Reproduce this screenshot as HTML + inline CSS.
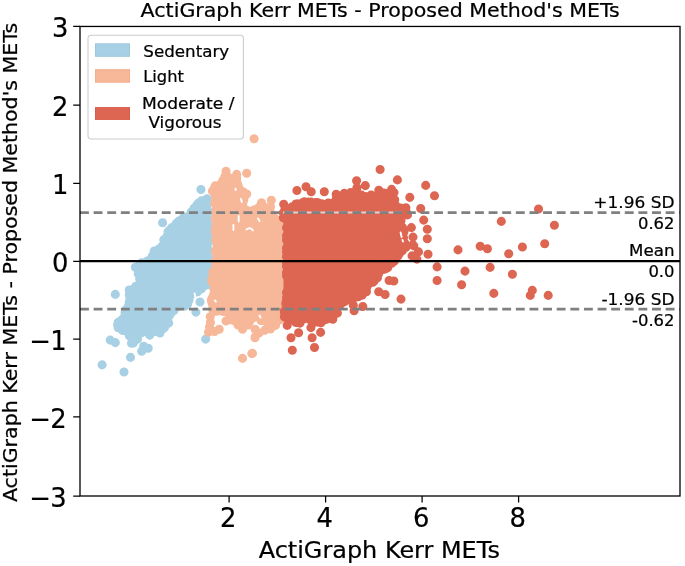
<!DOCTYPE html>
<html lang="en"><head><meta charset="utf-8"><title>ActiGraph Kerr METs - Proposed Method's METs</title>
<style>html,body{margin:0;padding:0;background:#fff}svg{display:block}text{stroke:#000;stroke-width:.22px}</style></head>
<body>
<svg width="685" height="566" viewBox="0 0 685 566" font-family="'DejaVu Sans','Liberation Sans',sans-serif" fill="#000">
<rect width="685" height="566" fill="#fff"/>
<g id="scatter">
<path d="M133.9,340.8 135.4,339.6 136.8,335.1 137.1,334.6 137.3,334.0 137.6,333.5 138.0,333.1 138.4,332.6 138.8,332.2 139.3,331.9 139.8,331.6 140.3,331.3 140.9,331.1 141.4,331.0 142.0,330.9 142.6,330.9 143.2,330.9 143.8,330.9 144.3,331.1 144.9,331.3 148.9,332.8 151.3,331.0 151.8,330.7 152.4,330.4 153.0,330.2 153.6,330.0 154.2,329.9 154.8,329.9 155.5,329.9 156.1,330.0 158.4,330.4 161.1,328.2 166.4,323.9 167.7,321.7 167.2,319.0 167.1,318.4 167.1,317.8 167.1,317.2 167.2,316.6 167.3,316.0 167.5,315.5 167.8,314.9 168.1,314.4 168.4,313.9 168.8,313.5 173.8,308.4 174.2,308.0 174.7,307.6 175.2,307.3 175.7,307.1 176.3,306.9 176.8,306.7 182.4,305.4 185.9,303.9 186.7,302.3 188.6,295.8 188.8,295.3 189.0,294.7 189.3,294.2 189.7,293.7 190.1,293.2 190.5,292.8 191.0,292.5 191.5,292.1 192.0,291.9 192.6,291.7 197.6,290.0 201.8,286.6 202.3,286.3 202.8,286.0 203.4,285.7 204.0,285.5 204.5,285.4 206.8,284.9 206.8,200.4 203.8,201.2 200.3,203.3 196.3,207.8 191.8,214.0 191.4,214.5 191.0,214.9 190.5,215.3 190.1,215.6 189.6,215.9 181.6,219.9 181.3,220.0 178.4,221.3 177.6,224.1 177.4,224.7 177.1,225.3 176.8,225.8 176.4,226.3 176.0,226.8 175.5,227.2 175.0,227.6 171.2,230.0 168.2,234.3 165.5,239.6 164.2,245.2 164.0,245.8 163.8,246.3 163.5,246.8 163.2,247.3 162.9,247.8 162.5,248.2 162.0,248.6 158.3,251.6 154.4,255.5 152.5,259.3 152.2,259.8 151.8,260.3 151.4,260.8 151.0,261.2 150.5,261.5 150.0,261.9 149.5,262.1 148.9,262.3 148.4,262.5 143.0,263.7 139.6,267.1 138.2,268.6 138.6,269.5 138.9,270.3 141.5,279.5 141.7,280.1 141.7,280.7 141.7,281.3 141.7,281.9 141.6,282.5 141.4,283.1 141.2,283.7 141.0,284.2 140.6,284.7 140.3,285.2 139.9,285.6 139.4,286.0 138.9,286.4 138.4,286.7 130.6,290.6 130.3,291.7 131.5,298.4 131.6,299.0 131.6,299.7 131.6,300.3 131.5,300.9 131.3,301.5 131.1,302.1 130.8,302.7 128.1,307.0 126.4,314.2 126.2,314.7 126.0,315.2 125.8,315.7 125.5,316.2 125.1,316.6 124.7,317.0 119.9,321.9 119.2,324.9 119.7,327.0 124.4,329.6 124.9,329.9 125.3,330.2 131.4,335.2 131.9,335.7 132.3,336.1 132.7,336.7 133.0,337.2 133.2,337.8 133.4,338.4 133.6,339.0 133.9,340.8Z" fill="#a7d0e4" stroke="#a7d0e4" stroke-width="9.1" stroke-linejoin="round"/>
<path d="M207.0 198.7h.01M201.5 200.7h.01M198.3 203.1h.01M196.8 204.9h.01M194.0 208.3h.01M191.2 212.0h.01M183.7 217.1h.01M176.0 223.8h.01M171.5 227.9h.01M168.8 230.7h.01M168.0 231.7h.01M163.8 239.8h.01M162.1 246.1h.01M159.1 248.9h.01M157.3 250.3h.01M152.5 255.7h.01M151.2 258.3h.01M147.2 261.1h.01M141.6 262.9h.01M140.1 264.3h.01M138.2 273.7h.01M139.7 279.1h.01M139.1 284.1h.01M135.8 286.2h.01M129.2 290.0h.01M129.3 294.8h.01M129.9 298.5h.01M129.2 302.2h.01M125.8 310.0h.01M125.1 312.5h.01M118.1 322.4h.01M117.6 324.9h.01M118.2 327.7h.01M122.4 330.4h.01M129.4 335.7h.01M133.3 343.0h.01M141.8 332.6h.01M152.6 332.1h.01M153.5 331.7h.01M158.2 332.0h.01M163.1 328.7h.01M164.5 327.5h.01M168.7 323.1h.01M168.9 316.3h.01M170.3 314.2h.01M174.0 310.5h.01M185.1 306.0h.01M187.6 304.3h.01M189.0 300.2h.01M190.5 295.3h.01M194.7 292.6h.01M197.5 291.7h.01M201.5 288.9h.01M208.4 282.5h.01M208.4 279.6h.01M208.4 274.6h.01M208.4 265.2h.01M208.4 262.4h.01M208.4 256.7h.01M208.4 250.0h.01M208.4 242.4h.01M208.4 237.8h.01M208.4 227.4h.01M208.4 225.6h.01M208.4 211.8h.01M102.1 364.9h.01M124.0 372.0h.01M130.5 357.4h.01M110.2 340.1h.01M115.3 342.6h.01M115.3 294.4h.01M141.7 351.3h.01M148.2 348.2h.01M143.7 346.2h.01M131.5 343.2h.01M137.6 339.1h.01M205.7 339.1h.01M195.9 312.1h.01M200.0 302.0h.01M135.4 267.2h.01M200.9 189.5h.01M162.6 222.7h.01M149.8 335.1h.01M160.0 333.0h.01M154.2 251.0h.01" fill="none" stroke="#a7d0e4" stroke-width="9.1" stroke-linecap="round"/>
<path d="M214.6,310.4 214.8,310.3 215.3,310.0 215.8,309.7 216.4,309.6 217.0,309.4 217.6,309.4 218.2,309.4 218.8,309.4 226.8,310.4 227.4,310.5 228.0,310.7 228.6,310.9 229.1,311.2 229.6,311.6 230.1,311.9 230.6,312.4 231.0,312.9 233.5,316.3 237.0,316.9 237.6,317.1 238.2,317.3 238.8,317.5 239.4,317.9 239.9,318.2 240.3,318.7 242.5,320.9 248.2,320.9 254.7,316.8 255.3,316.5 255.8,316.2 256.4,316.1 257.0,315.9 257.6,315.9 258.3,315.9 258.9,315.9 259.5,316.0 260.1,316.2 260.6,316.4 261.2,316.7 261.7,317.1 264.9,319.5 268.8,320.8 275.4,320.4 279.9,319.7 279.9,224.7 279.3,224.5 278.7,224.3 278.2,224.1 277.7,223.8 277.2,223.5 276.7,223.1 276.3,222.7 275.9,222.2 269.5,213.5 269.2,213.0 268.9,212.4 268.7,211.8 268.5,211.2 268.4,210.5 268.4,209.9 268.4,209.1 267.7,209.3 267.1,209.5 266.5,209.6 265.9,209.6 265.3,209.6 264.7,209.6 264.1,209.4 263.5,209.3 263.0,209.0 262.4,208.7 261.9,208.4 261.5,208.0 261.0,207.5 259.5,208.9 259.0,209.3 258.4,209.7 257.9,209.9 252.4,212.3 251.8,212.5 251.2,212.7 250.7,212.8 250.1,212.8 249.5,212.8 248.9,212.8 248.3,212.6 247.7,212.5 247.2,212.2 246.7,211.9 246.2,211.6 245.7,211.2 245.3,210.8 245.0,210.4 244.6,209.9 242.2,205.9 241.9,205.3 241.7,204.8 241.5,204.2 241.4,203.6 241.4,203.0 241.4,202.3 241.4,201.7 241.6,201.1 241.7,200.5 243.4,196.1 242.7,193.7 240.3,190.6 239.9,190.1 239.6,189.6 239.3,189.0 237.0,182.7 235.3,178.8 234.4,178.4 231.2,179.0 230.6,179.1 230.0,179.1 229.4,179.1 228.8,179.0 228.2,178.9 227.6,178.7 227.1,178.4 226.6,178.1 226.1,177.8 225.2,179.8 224.9,180.4 224.6,180.8 224.3,181.3 223.9,181.7 223.4,182.1 219.5,185.2 219.1,185.5 218.8,185.7 214.6,188.1 213.6,189.9 215.1,194.3 215.3,195.0 215.4,195.6 217.0,209.3 217.1,210.0 217.1,262.0 217.0,262.6 216.9,263.1 216.8,263.6 212.9,277.9 215.4,287.9 215.5,288.5 215.5,289.0 215.5,289.6 215.5,290.2 215.4,290.8 215.2,291.3 215.0,291.8 211.4,300.3 214.6,310.4Z" fill="#f7b799" stroke="#f7b799" stroke-width="9.1" stroke-linejoin="round"/>
<path d="M216.2 311.3h.01M218.0 311.0h.01M223.1 311.5h.01M226.1 311.9h.01M230.4 314.9h.01M236.5 318.5h.01M244.1 322.4h.01M245.3 322.4h.01M249.5 321.9h.01M260.1 318.0h.01M264.7 321.1h.01M276.5 321.8h.01M281.4 311.6h.01M281.4 303.7h.01M281.4 301.9h.01M281.4 284.6h.01M281.4 282.9h.01M281.4 279.4h.01M281.4 271.1h.01M281.4 258.3h.01M281.4 256.4h.01M281.4 251.9h.01M281.4 247.3h.01M281.4 237.9h.01M281.4 223.7h.01M277.6 221.7h.01M275.1 218.4h.01M270.5 212.1h.01M267.9 207.5h.01M265.3 208.0h.01M258.8 207.4h.01M254.3 209.8h.01M247.8 210.7h.01M243.0 202.7h.01M243.8 199.7h.01M245.0 195.9h.01M243.4 192.0h.01M236.7 177.9h.01M228.7 177.4h.01M227.6 176.8h.01M224.9 176.5h.01M222.8 180.5h.01M215.2 185.9h.01M212.4 191.1h.01M214.7 203.2h.01M215.5 211.1h.01M215.5 217.2h.01M215.5 220.2h.01M215.5 227.1h.01M215.5 230.8h.01M215.5 232.9h.01M215.5 240.1h.01M215.5 251.3h.01M215.5 261.1h.01M212.8 272.2h.01M211.7 279.8h.01M212.2 282.0h.01M213.9 289.0h.01M212.5 309.2h.01M254.1 138.7h.01M226.0 171.2h.01M236.7 174.4h.01M246.7 173.3h.01M261.5 202.7h.01M271.3 200.3h.01M270.5 206.7h.01M246.7 194.0h.01M242.5 358.4h.01M251.8 353.6h.01M208.5 332.2h.01M219.2 329.3h.01M210.4 322.5h.01M242.5 329.3h.01M255.1 329.3h.01M255.1 337.0h.01M267.7 328.3h.01M275.5 325.4h.01M264.8 330.3h.01M233.7 320.5h.01M229.8 319.6h.01M255.0 337.8h.01M252.5 353.4h.01M261.0 320.5h.01M248.0 325.0h.01M210.2 316.8h.01M209.5 327.0h.01M214.5 331.5h.01M226.0 321.0h.01M238.0 325.0h.01M270.5 329.0h.01M259.0 333.0h.01" fill="none" stroke="#f7b799" stroke-width="9.1" stroke-linecap="round"/>
<path d="M285.3,209.3 285.1,209.8 284.7,217.1 287.1,220.6 287.4,221.1 287.7,221.6 287.9,222.2 288.0,222.8 288.1,223.4 288.1,224.0 288.0,300.0 288.0,300.6 287.9,301.2 286.0,310.6 286.0,317.5 286.8,317.1 287.4,316.8 288.0,316.6 288.5,316.4 289.2,316.3 289.8,316.3 290.4,316.3 291.0,316.3 291.6,316.5 292.2,316.7 292.7,316.9 293.3,317.2 293.8,317.6 294.2,318.0 294.6,318.5 296.9,321.2 299.6,321.4 300.7,319.7 301.1,319.3 301.5,318.8 301.9,318.4 302.4,318.0 303.0,317.7 303.5,317.5 304.1,317.3 304.7,317.2 305.3,317.1 305.9,317.1 306.5,317.1 307.1,317.2 307.7,317.3 317.5,320.5 322.2,321.2 322.6,320.6 322.9,320.1 323.3,319.6 323.7,319.1 324.2,318.7 324.7,318.3 325.3,318.0 325.8,317.7 326.4,317.5 327.1,317.4 330.6,316.9 331.2,315.1 331.4,314.4 331.8,313.7 336.2,306.7 336.6,306.2 337.0,305.7 337.5,305.2 338.0,304.8 338.6,304.5 344.7,301.4 352.5,296.7 353.1,296.4 353.7,296.2 354.3,296.0 360.1,294.7 365.0,291.0 367.6,285.2 367.8,284.7 368.1,284.2 368.5,283.7 368.9,283.3 369.3,282.9 375.7,277.7 376.8,274.1 377.0,273.5 377.2,273.0 377.6,272.4 377.9,271.9 378.3,271.5 378.8,271.1 379.3,270.7 379.8,270.4 380.3,270.1 380.9,269.9 381.5,269.8 385.7,268.9 386.3,266.9 386.5,266.4 386.7,265.8 387.0,265.4 387.3,264.9 387.7,264.4 388.1,264.0 388.5,263.7 394.0,259.6 398.1,252.7 398.5,252.2 398.8,251.8 399.3,251.3 404.1,246.9 403.6,244.6 402.1,239.8 402.0,239.2 401.9,238.6 401.9,238.1 401.9,237.5 402.3,232.0 402.1,229.1 401.2,228.4 400.7,228.0 400.3,227.5 399.9,227.0 399.6,226.5 399.3,225.9 399.1,225.4 399.0,224.8 398.9,224.1 398.9,223.5 398.9,222.9 399.0,222.3 400.0,217.7 400.2,217.1 400.4,216.5 400.7,216.0 401.0,215.4 401.4,214.9 401.8,214.5 402.3,214.1 402.8,213.7 405.2,212.3 405.1,210.5 403.8,209.5 400.1,209.6 399.5,209.6 398.9,209.6 398.3,209.5 397.8,209.3 397.2,209.1 396.7,208.8 396.2,208.5 395.8,208.1 395.3,207.7 394.9,207.3 394.6,206.8 394.3,206.3 394.1,205.7 393.9,205.2 393.8,204.6 392.7,199.0 391.0,193.8 391.0,193.7 389.6,194.5 389.1,194.7 388.5,194.9 387.9,195.1 387.3,195.1 386.7,195.1 386.1,195.1 385.4,195.0 380.3,193.9 379.6,194.5 379.0,194.9 378.5,195.2 374.0,197.5 373.5,197.7 372.9,197.9 372.4,198.0 371.8,198.1 371.2,198.2 366.0,198.2 365.4,198.1 364.8,198.0 364.3,197.9 363.7,197.7 358.7,195.7 358.1,195.4 357.6,195.1 357.1,194.7 356.6,194.3 355.8,193.5 354.0,194.8 353.4,195.1 352.9,195.4 352.3,195.6 351.7,195.7 345.4,196.9 344.8,197.0 338.9,197.6 336.7,199.7 332.2,205.0 331.8,205.4 331.3,205.8 330.9,206.1 330.4,206.4 329.8,206.7 329.3,206.9 328.7,207.0 328.2,207.1 327.6,207.1 327.0,207.1 326.4,207.1 325.8,206.9 325.3,206.7 319.6,204.6 309.0,203.7 298.5,204.5 295.8,205.7 292.5,208.6 292.1,209.0 291.6,209.3 291.1,209.6 290.5,209.8 289.9,210.0 289.4,210.1 288.8,210.1 288.2,210.1 287.6,210.1 287.0,210.0 286.4,209.8 285.9,209.6 285.4,209.3 285.3,209.3Z" fill="#dd6653" stroke="#dd6653" stroke-width="9.1" stroke-linejoin="round"/>
<path d="M289.6 317.9h.01M294.3 320.5h.01M295.9 322.5h.01M300.0 323.1h.01M303.8 319.1h.01M310.1 319.8h.01M313.3 320.8h.01M316.9 322.0h.01M320.9 322.7h.01M325.8 319.5h.01M327.7 318.9h.01M333.0 314.8h.01M335.1 311.4h.01M339.4 305.9h.01M352.4 298.6h.01M355.3 297.4h.01M358.2 296.8h.01M362.3 295.1h.01M366.4 291.7h.01M372.8 282.2h.01M374.2 281.0h.01M377.4 277.9h.01M378.5 274.1h.01M387.8 267.6h.01M391.8 263.2h.01M394.2 261.4h.01M398.0 256.0h.01M399.7 253.2h.01M402.3 250.7h.01M405.9 247.4h.01M404.8 243.3h.01M403.5 237.8h.01M403.9 232.1h.01M402.5 227.4h.01M401.0 220.7h.01M404.3 214.7h.01M406.8 212.9h.01M400.7 208.0h.01M395.9 205.8h.01M386.2 193.5h.01M383.8 193.0h.01M379.8 192.2h.01M370.1 196.6h.01M365.3 196.5h.01M361.6 195.1h.01M356.7 192.1h.01M354.2 192.7h.01M349.4 194.5h.01M344.7 195.4h.01M343.1 195.6h.01M336.4 197.8h.01M331.2 203.7h.01M327.3 205.5h.01M321.8 203.7h.01M318.0 202.8h.01M315.8 202.6h.01M308.6 202.1h.01M304.9 202.4h.01M302.7 202.6h.01M295.7 204.1h.01M292.2 206.8h.01M288.9 208.5h.01M285.0 207.0h.01M283.3 212.7h.01M283.3 217.7h.01M286.5 227.7h.01M286.5 235.7h.01M286.5 239.8h.01M286.5 248.0h.01M286.5 251.9h.01M286.5 256.7h.01M286.5 263.9h.01M286.5 266.2h.01M286.5 272.7h.01M286.5 275.8h.01M286.5 292.5h.01M286.5 297.4h.01M286.2 301.7h.01M285.8 303.8h.01M284.4 311.0h.01M284.4 312.6h.01M284.4 316.8h.01M283.7 204.2h.01M296.9 190.5h.01M306.0 186.7h.01M311.2 191.8h.01M324.3 191.8h.01M297.3 203.7h.01M304.4 201.7h.01M311.0 202.0h.01M317.9 202.9h.01M328.3 203.0h.01M336.2 194.2h.01M344.2 193.4h.01M350.5 192.6h.01M356.9 187.8h.01M371.2 195.0h.01M380.1 169.5h.01M397.4 179.9h.01M356.6 180.7h.01M365.3 185.6h.01M425.7 185.4h.01M434.5 195.8h.01M409.8 197.4h.01M391.6 189.4h.01M378.8 190.2h.01M394.0 192.6h.01M394.7 199.7h.01M405.9 207.7h.01M407.5 214.9h.01M420.7 208.5h.01M423.7 220.1h.01M427.3 229.2h.01M427.3 238.7h.01M411.4 227.6h.01M413.0 237.1h.01M413.8 245.9h.01M404.3 230.0h.01M412.9 244.8h.01M428.0 254.3h.01M418.5 251.9h.01M412.1 255.9h.01M416.9 259.1h.01M437.1 266.9h.01M437.1 280.5h.01M458.0 249.9h.01M465.0 271.1h.01M461.6 284.7h.01M480.2 246.3h.01M487.4 248.8h.01M490.1 267.4h.01M493.8 293.4h.01M501.3 221.4h.01M508.7 253.7h.01M512.4 274.3h.01M522.4 247.0h.01M538.5 209.0h.01M544.7 243.8h.01M554.4 225.2h.01M532.3 290.4h.01M530.3 295.4h.01M548.2 295.4h.01M401.0 299.1h.01M378.7 291.7h.01M385.1 294.5h.01M389.1 280.5h.01M393.8 281.0h.01M354.1 310.7h.01M362.8 306.5h.01M353.3 305.2h.01M337.4 313.1h.01M292.3 350.2h.01M314.5 347.5h.01M291.0 337.8h.01M298.6 332.7h.01M312.1 337.8h.01M310.9 327.6h.01M320.6 332.4h.01M332.8 319.2h.01M336.8 312.8h.01M287.2 325.4h.01" fill="none" stroke="#dd6653" stroke-width="9.1" stroke-linecap="round"/>
<path d="M238.7 216v5.5M233.4 225v5M246.5 229.5q3.5-3 6.5 1M258 218.5l1.5 2.5M241 199l.8 3M235.6 188.6v1.4M259.5 315.5l1 2M215 300.4l.8 1.2M194.6 293.5l.6 3.2M400.6 232.5l1 4.5M402.5 240l.5 1.5" fill="none" stroke="#fff" stroke-width="1.9" stroke-linecap="round"/>
</g>
<path d="M283 212.62H402" stroke="#f1cdc6" stroke-width="2" fill="none"/>
<path d="M80.0 212.62H680.0M80.0 309.10H680.0" stroke="#808080" stroke-width="2.7" stroke-dasharray="8.9 4.72" fill="none"/>
<path d="M80.0 261.15H680.0" stroke="#000" stroke-width="2.35" fill="none"/>
<rect x="80.0" y="26.45" width="600.0" height="469.55" fill="none" stroke="#000" stroke-width="1.3"/>
<path d="M229.10 496.0v6.5M325.60 496.0v6.5M422.10 496.0v6.5M518.60 496.0v6.5M80.0 496.00h-6.8M80.0 416.95h-6.8M80.0 339.00h-6.8M80.0 261.30h-6.8M80.0 183.25h-6.8M80.0 105.20h-6.8M80.0 26.40h-6.8" stroke="#000" stroke-width="1.25" fill="none"/>
<text transform="translate(228.30 527.20)" font-size="25.8" text-anchor="middle">2</text>
<text transform="translate(324.80 527.20)" font-size="25.8" text-anchor="middle">4</text>
<text transform="translate(421.30 527.20)" font-size="25.8" text-anchor="middle">6</text>
<text transform="translate(517.80 527.20)" font-size="25.8" text-anchor="middle">8</text>
<text transform="translate(66.70 506.70)" font-size="25.8" text-anchor="end">3</text>
<text transform="translate(29.20 506.70)" font-size="25.8">−</text>
<text transform="translate(66.70 427.65)" font-size="25.8" text-anchor="end">2</text>
<text transform="translate(29.20 427.65)" font-size="25.8">−</text>
<text transform="translate(66.70 349.70)" font-size="25.8" text-anchor="end">1</text>
<text transform="translate(29.20 349.70)" font-size="25.8">−</text>
<text transform="translate(68.50 272.00)" font-size="25.8" text-anchor="end">0</text>
<text transform="translate(68.50 193.95)" font-size="25.8" text-anchor="end">1</text>
<text transform="translate(68.50 115.90)" font-size="25.8" text-anchor="end">2</text>
<text transform="translate(68.50 37.10)" font-size="25.8" text-anchor="end">3</text>
<text transform="translate(380.20 17.00) scale(1.088 1)" font-size="18.9" text-anchor="middle">ActiGraph Kerr METs - Proposed Method's METs</text>
<text transform="translate(379.30 558.20) scale(1.06 1)" font-size="22.6" text-anchor="middle">ActiGraph Kerr METs</text>
<text transform="translate(17.30 262.50) rotate(-90) scale(1.088 1)" font-size="18.9" text-anchor="middle">ActiGraph Kerr METs - Proposed Method's METs</text>
<text transform="translate(674.50 207.72) scale(1.085 1)" font-size="15.65" text-anchor="end">+1.96 SD</text>
<text transform="translate(674.50 228.52) scale(1.05 1)" font-size="15.65" text-anchor="end">0.62</text>
<text transform="translate(674.50 256.25) scale(1.065 1)" font-size="15.65" text-anchor="end">Mean</text>
<text transform="translate(674.50 277.05) scale(1.05 1)" font-size="15.65" text-anchor="end">0.0</text>
<text transform="translate(674.50 304.80) scale(1.085 1)" font-size="15.65" text-anchor="end">-1.96 SD</text>
<text transform="translate(674.50 325.60) scale(1.05 1)" font-size="15.65" text-anchor="end">-0.62</text>
<rect x="88" y="35.2" width="155.4" height="103.8" rx="3.2" fill="#fff" fill-opacity="0.8" stroke="#ccc" stroke-width="1.1"/>
<rect x="95.5" y="43.8" width="34" height="12.5" fill="#a7d0e4" stroke="#9dc9df" stroke-width="1"/>
<rect x="95.5" y="69.7" width="34" height="12.5" fill="#f7b799" stroke="#f4ae8e" stroke-width="1"/>
<rect x="95.5" y="107.6" width="34" height="11.8" fill="#dd6653" stroke="#d95b49" stroke-width="1"/>
<text transform="translate(143.35 57.20) scale(1.064 1)" font-size="15.7">Sedentary</text>
<text transform="translate(143.25 82.30) scale(1.04 1)" font-size="15.7">Light</text>
<text transform="translate(141.90 108.80) scale(1.084 1)" font-size="15.8">Moderate /</text>
<text transform="translate(143.10 127.70) scale(1.066 1)" font-size="15.8" xml:space="preserve"> Vigorous</text>
</svg>
</body></html>
